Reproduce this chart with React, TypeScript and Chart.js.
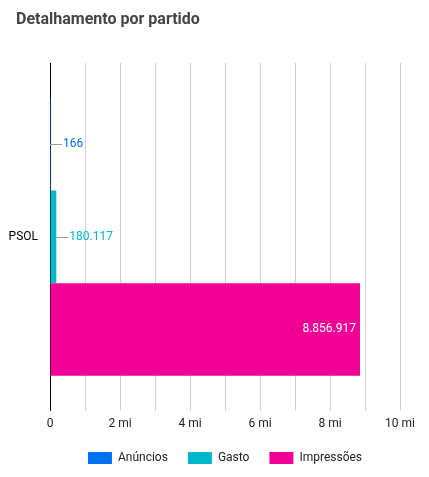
import { useEffect, useRef } from 'react'
import { Chart, registerables, type ChartConfiguration, type Plugin } from 'chart.js'

Chart.register(...registerables)

// Detalhamento por partido — horizontal grouped bars, single category

const categories = ['PSOL']
const seriesNames = ['Anúncios', 'Gasto', 'Impressões']
const seriesColors = ['#0072f0', '#00b6cb', '#f10096']
const anuncios = [166]
const gasto = [180117]
const impressoes = [8856917]
const xTicks = [0, 2000000, 4000000, 6000000, 8000000, 10000000]

const FONT = 'Roboto, "Noto Sans", sans-serif'

function fmtPt(v: number): string {
  return Math.round(v).toString().replace(/\B(?=(\d{3})+(?!\d))/g, '.')
}

function fmtMi(v: number): string {
  if (v === 0) return '0'
  return (v / 1e6).toString() + ' mi'
}

const valueLabels: Plugin<'bar'> = {
  id: 'valueLabels',
  afterDatasetsDraw(chart) {
    const ctx = chart.ctx
    ctx.save()
    ctx.font = '12px ' + FONT
    ctx.textBaseline = 'middle'
    chart.data.datasets.forEach((ds, di) => {
      const meta = chart.getDatasetMeta(di)
      meta.data.forEach((el: any, i) => {
        const v = Number(ds.data[i])
        const txt = fmtPt(v)
        const tw = ctx.measureText(txt).width
        const len = el.x - el.base
        if (len > tw + 12) {
          ctx.fillStyle = '#ffffff'
          ctx.textAlign = 'right'
          ctx.fillText(txt, el.x - 4, el.y)
        } else {
          ctx.strokeStyle = '#9e9e9e'
          ctx.lineWidth = 1
          ctx.beginPath()
          ctx.moveTo(el.x, Math.round(el.y) + 0.5)
          ctx.lineTo(el.x + 12, Math.round(el.y) + 0.5)
          ctx.stroke()
          ctx.fillStyle = seriesColors[di]
          ctx.textAlign = 'left'
          ctx.fillText(txt, el.x + 13, el.y)
        }
      })
    })
    ctx.restore()
  },
}

export default function App() {
  const canvasRef = useRef<HTMLCanvasElement>(null)
  const chartRef = useRef<Chart | null>(null)

  useEffect(() => {
    if (!canvasRef.current) return
    if (chartRef.current) { chartRef.current.destroy(); chartRef.current = null }

    const values = [anuncios, gasto, impressoes]

    const config: ChartConfiguration<'bar'> = {
      type: 'bar',
      data: {
        labels: categories,
        datasets: seriesNames.map((name, i) => ({
          label: name,
          data: values[i],
          backgroundColor: seriesColors[i],
          borderWidth: 0,
          barPercentage: 1,
          categoryPercentage: 0.8,
        })),
      },
      options: {
        indexAxis: 'y',
        responsive: true,
        maintainAspectRatio: false,
        animation: false,
        layout: { padding: { left: 0, right: 29, top: 63, bottom: 3 } },
        scales: {
          x: {
            min: 0,
            max: 10000000,
            grid: { color: '#d0d0d0', drawTicks: false },
            border: { display: false },
            afterBuildTicks: (axis) => {
              const t = []
              for (let v = 0; v <= 10; v++) t.push({ value: v * 1e6 })
              axis.ticks = t
            },
            afterFit: (axis) => { axis.height -= 5 },
            ticks: {
              autoSkip: false,
              maxRotation: 0,
              padding: 6,
              color: '#222222',
              font: { size: 12, family: FONT },
              callback: (v) => (xTicks.includes(Number(v)) ? fmtMi(Number(v)) : ''),
            },
          },
          y: {
            grid: { display: false, drawTicks: false },
            border: { display: true, color: '#000000', width: 1 },
            afterFit: (axis) => { axis.width = 50 },
            ticks: {
              padding: 12,
              color: '#000000',
              font: { size: 12, family: FONT },
            },
          },
        },
        plugins: {
          legend: {
            position: 'bottom',
            fullSize: false,
            labels: {
              boxWidth: 24,
              boxHeight: 12,
              padding: 20,
              color: '#222222',
              font: { size: 12, family: FONT },
            },
          },
          tooltip: { enabled: false },
        },
      },
      plugins: [valueLabels],
    }
    chartRef.current = new Chart(canvasRef.current, config)
    return () => { chartRef.current?.destroy(); chartRef.current = null }
  }, [])

  return (
    <div style={{ position: 'fixed', left: 0, top: 0, width: 429, height: 477, background: '#ffffff' }}>
      <div
        style={{
          position: 'absolute',
          left: 16,
          top: 9,
          fontFamily: FONT,
          fontSize: 16,
          fontWeight: 'bold',
          color: '#444444',
          lineHeight: 'normal',
        }}
      >
        Detalhamento por partido
      </div>
      <canvas ref={canvasRef} />
    </div>
  )
}
